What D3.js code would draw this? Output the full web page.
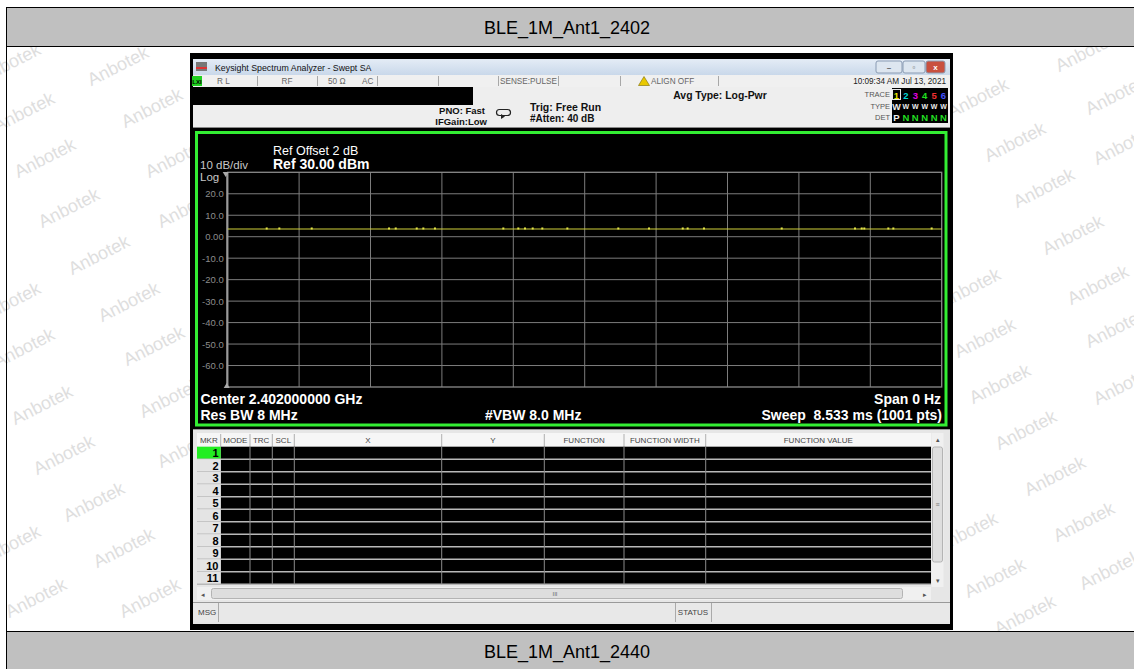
<!DOCTYPE html>
<html>
<head>
<meta charset="utf-8">
<script src="https://cdn.jsdelivr.net/npm/d3@7"></script>
<style>
  body { margin: 0; background: #fff; }
  svg { display: block; font-family: "Liberation Sans", Arial, sans-serif; }
  svg text { white-space: pre; }
</style>
</head>
<body>
<div id="chart"></div>
<script>
// ---- data ----
const chartTitles = ["BLE_1M_Ant1_2402", "BLE_1M_Ant1_2440"];
const yTickValues = [20, 10, 0, -10, -20, -30, -40, -50, -60];
const yTickLabels = ["20.0", "10.0", "0.00", "-10.0", "-20.0", "-30.0", "-40.0", "-50.0", "-60.0"];
const refLevel = 30;       // dBm, top of grid
const bottomLevel = -70;   // dBm, bottom of grid
const sweepMs = 8.533;     // zero span, time axis
// flat trace (burst envelope) and the small blips riding on it
const traceMs = [0, 8.533];
const traceDbm = [3.6, 3.6];
const blipMs = [0.466, 0.617, 1.004, 1.928, 2.008, 2.259, 2.338, 2.477, 3.294, 3.473, 3.553, 3.645, 3.760,
                4.059, 4.668, 5.035, 5.438, 5.497, 5.692, 6.621, 7.497, 7.577, 7.608, 7.895, 7.955, 8.413];
const blipDbm = [4.3, 4.3, 4.3, 4.3, 4.3, 4.3, 4.3, 4.3, 4.3, 4.3, 4.3, 4.3, 4.3,
                 4.3, 4.3, 4.3, 4.3, 4.3, 4.3, 4.3, 4.3, 4.3, 4.3, 4.3, 4.3, 4.3];
const markerHeaders = ["MKR", "MODE", "TRC", "SCL", "X", "Y", "FUNCTION", "FUNCTION WIDTH", "FUNCTION VALUE"];
const markerRows = ["1", "2", "3", "4", "5", "6", "7", "8", "9", "10", "11"];
const statusFields = ["R L", "RF", "50 Ω", "AC", "SENSE:PULSE", "ALIGN OFF", "10:09:34 AM Jul 13, 2021"];
const traceNums = ["1", "2", "3", "4", "5", "6"];
const traceColors = ["#e8e800", "#00d8d8", "#e000e0", "#20e020", "#f03030", "#4050ff"];
const detLetters = ["P", "N", "N", "N", "N", "N"];

// ---- layout ----
const W = 1134, H = 669;
const svg = d3.select("#chart").append("svg").attr("width", W).attr("height", H);

// watermark positions (decoration)
const wmLeft = [[118, 66], [10, 63], [152, 108], [24, 112], [176, 158], [45, 158], [69, 208], [188, 208],
                [99, 255], [129, 302], [10, 302], [154, 346], [24, 348], [42, 405], [170, 398], [64, 455],
                [188, 448], [94, 502], [124, 548], [10, 545], [150, 598], [36, 598]];
const wmRight = [[1086, 52], [978, 98], [1116, 95], [1015, 142], [1124, 145], [1044, 188], [1073, 235],
                 [1098, 285], [970, 288], [1116, 328], [985, 338], [1000, 384], [1124, 385], [1026, 430],
                 [1055, 476], [1084, 522], [967, 532], [1110, 570], [995, 578], [1025, 615]];
svg.append("g").selectAll("text").data(wmLeft.concat(wmRight)).join("text")
  .attr("transform", d => `translate(${d[0]},${d[1]}) rotate(-27)`)
  .attr("text-anchor", "middle").attr("dominant-baseline", "central")
  .attr("font-size", 18).attr("fill", "#dedede").text("Anbotek");

// page frame and the two caption bars
svg.append("line").attr("x1", 6.5).attr("x2", 6.5).attr("y1", 7).attr("y2", H).attr("stroke", "#000");
[[7.5, chartTitles[0]], [631.5, chartTitles[1]]].forEach(([y, label]) => {
  svg.append("rect").attr("x", 6.5).attr("y", y).attr("width", W).attr("height", 39)
    .attr("fill", "#c0c0c0").attr("stroke", "#000");
  svg.append("text").attr("x", 567).attr("y", y + 20).attr("text-anchor", "middle")
    .attr("dominant-baseline", "central").attr("font-size", 18).attr("fill", "#000").text(label);
});

// ---- instrument screenshot ----
const sa = svg.append("g");
sa.append("rect").attr("x", 190).attr("y", 53).attr("width", 763).attr("height", 577).attr("fill", "#000");

// window title bar
const grad = svg.append("defs").append("linearGradient").attr("id", "tb").attr("x1", 0).attr("x2", 0).attr("y1", 0).attr("y2", 1);
grad.append("stop").attr("offset", 0).attr("stop-color", "#e4ecf6");
grad.append("stop").attr("offset", 1).attr("stop-color", "#c9d8ea");
sa.append("rect").attr("x", 193).attr("y", 59).attr("width", 757).attr("height", 16).attr("fill", "url(#tb)");
sa.append("rect").attr("x", 196).attr("y", 62).attr("width", 11).attr("height", 9).attr("fill", "#777");
sa.append("rect").attr("x", 196).attr("y", 67).attr("width", 11).attr("height", 2).attr("fill", "#d33");
sa.append("text").attr("x", 215).attr("y", 67.5).attr("dominant-baseline", "central")
  .attr("font-size", 8.8).attr("fill", "#111").text("Keysight Spectrum Analyzer - Swept SA");
[[876, 26, "#dde6f0", "#555"], [903, 22, "#dde6f0", "#555"], [926, 19, "#c9503f", "#fff"]].forEach(([x, w, f, c], i) => {
  sa.append("rect").attr("x", x).attr("y", 61).attr("width", w).attr("height", 12).attr("rx", 2)
    .attr("fill", f).attr("stroke", "#8a9bb3");
  sa.append("text").attr("x", x + w / 2).attr("y", 67.5).attr("text-anchor", "middle").attr("dominant-baseline", "central")
    .attr("font-size", 8).attr("font-weight", "bold").attr("fill", c).text(["–", "▫", "x"][i]);
});

// status row
sa.append("rect").attr("x", 193).attr("y", 75).attr("width", 757).attr("height", 12).attr("fill", "#f0f0f0");
sa.append("rect").attr("x", 192).attr("y", 76).attr("width", 10).attr("height", 10).attr("fill", "#20d020");
sa.append("text").attr("x", 197).attr("y", 81.5).attr("text-anchor", "middle").attr("dominant-baseline", "central")
  .attr("font-size", 6).attr("font-weight", "bold").attr("fill", "#000").text("LXI");
[257, 317, 377, 438, 498, 558, 620, 718].forEach(x => {
  sa.append("line").attr("x1", x + 0.5).attr("x2", x + 0.5).attr("y1", 76).attr("y2", 86).attr("stroke", "#a8a8a8");
});
const statusX = [[217, "start"], [287, "middle"], [328, "start"], [362, "start"], [500, "start"], [651, "start"], [946, "end"]];
statusFields.forEach((s, i) => {
  sa.append("text").attr("x", statusX[i][0]).attr("y", 81.5).attr("text-anchor", statusX[i][1])
    .attr("dominant-baseline", "central").attr("font-size", 8.2).attr("fill", i === 6 ? "#222" : "#666").text(s);
});
sa.append("path").attr("d", "M644,76.5 L649.5,85.5 L638.5,85.5 Z").attr("fill", "#e8c800").attr("stroke", "#7a6a00").attr("stroke-width", 0.6);

// settings panel
sa.append("rect").attr("x", 193).attr("y", 87).attr("width", 757).attr("height", 40).attr("fill", "#eeeeee");
sa.append("rect").attr("x", 193).attr("y", 87).attr("width", 280).attr("height", 18).attr("fill", "#000");
sa.append("line").attr("x1", 193).attr("x2", 950).attr("y1", 127.5).attr("y2", 127.5).attr("stroke", "#888");
sa.append("text").attr("x", 485).attr("y", 110.5).attr("text-anchor", "end").attr("dominant-baseline", "central")
  .attr("font-size", 9.5).attr("font-weight", "bold").attr("fill", "#111").text("PNO: Fast");
sa.append("text").attr("x", 487).attr("y", 121.5).attr("text-anchor", "end").attr("dominant-baseline", "central")
  .attr("font-size", 9.5).attr("font-weight", "bold").attr("fill", "#111").text("IFGain:Low");
sa.append("rect").attr("x", 496.5).attr("y", 109.5).attr("width", 14).attr("height", 6).attr("rx", 3)
  .attr("fill", "none").attr("stroke", "#222").attr("stroke-width", 1.2);
sa.append("path").attr("d", "M501,114 L505,116.5 L501,119 Z").attr("fill", "#222");
sa.append("text").attr("x", 530).attr("y", 107).attr("dominant-baseline", "central")
  .attr("font-size", 10.5).attr("font-weight", "bold").attr("fill", "#111").text("Trig: Free Run");
sa.append("text").attr("x", 530).attr("y", 118.5).attr("dominant-baseline", "central")
  .attr("font-size", 10).attr("font-weight", "bold").attr("fill", "#111").text("#Atten: 40 dB");
sa.append("text").attr("x", 720).attr("y", 95).attr("text-anchor", "middle").attr("dominant-baseline", "central")
  .attr("font-size", 10.4).attr("font-weight", "bold").attr("fill", "#111").text("Avg Type: Log-Pwr");

// trace legend box
[["TRACE", 94.5], ["TYPE", 106.5], ["DET", 117.5]].forEach(([t, y]) => {
  sa.append("text").attr("x", 890).attr("y", y).attr("text-anchor", "end").attr("dominant-baseline", "central")
    .attr("font-size", 7.5).attr("fill", "#555").text(t);
});
sa.append("rect").attr("x", 892).attr("y", 88).attr("width", 56).attr("height", 35).attr("fill", "#000");
sa.append("rect").attr("x", 892.5).attr("y", 89.5).attr("width", 8).attr("height", 10).attr("fill", "none").attr("stroke", "#e8e8e8");
traceNums.forEach((n, i) => {
  const x = 896.5 + i * 9.4;
  sa.append("text").attr("x", x).attr("y", 95).attr("text-anchor", "middle").attr("dominant-baseline", "central")
    .attr("font-size", 9.5).attr("font-weight", "bold").attr("fill", traceColors[i]).text(n);
  sa.append("text").attr("x", x).attr("y", 106.5).attr("text-anchor", "middle").attr("dominant-baseline", "central")
    .attr("font-size", i === 0 ? 9 : 7).attr("font-weight", "bold").attr("fill", "#eee").text("W");
  sa.append("text").attr("x", x).attr("y", 117.5).attr("text-anchor", "middle").attr("dominant-baseline", "central")
    .attr("font-size", 9.5).attr("font-weight", "bold").attr("fill", i === 0 ? "#f0f0f0" : "#22dd22").text(detLetters[i]);
});

// ---- graph window ----
sa.append("rect").attr("x", 196.5).attr("y", 132.5).attr("width", 749.5).attr("height", 292.5)
  .attr("fill", "#000").attr("stroke", "#33ee33").attr("stroke-width", 3);

const x = d3.scaleLinear().domain([0, sweepMs]).range([227.7, 941.7]);
const y = d3.scaleLinear().domain([bottomLevel, refLevel]).range([387, 172.3]);

const grid = sa.append("g");
grid.selectAll("line.v").data(d3.range(1, 10)).join("line").attr("class", "v")
  .attr("x1", i => x(i * sweepMs / 10)).attr("x2", i => x(i * sweepMs / 10))
  .attr("y1", y(refLevel)).attr("y2", y(bottomLevel)).attr("stroke", "#7c7c7c");
grid.selectAll("line.h").data(yTickValues).join("line").attr("class", "h")
  .attr("x1", x(0)).attr("x2", x(sweepMs)).attr("y1", d => y(d)).attr("y2", d => y(d)).attr("stroke", "#7c7c7c");
grid.append("rect").attr("x", x(0)).attr("y", y(refLevel)).attr("width", x(sweepMs) - x(0))
  .attr("height", y(bottomLevel) - y(refLevel)).attr("fill", "none").attr("stroke", "#8a8a8a").attr("stroke-width", 1.3);
grid.append("line").attr("x1", x(0) - 0.5).attr("x2", x(0) - 0.5).attr("y1", y(refLevel)).attr("y2", y(bottomLevel))
  .attr("stroke", "#9a9a9a").attr("stroke-width", 2);

// y axis labels via d3 axis
const yAxis = d3.axisLeft(y).tickValues(yTickValues).tickFormat((d, i) => yTickLabels[i]).tickSize(0).tickPadding(4);
const yg = sa.append("g").attr("transform", `translate(${x(0)},0)`).call(yAxis);
yg.select(".domain").remove();
yg.selectAll("text").attr("fill", "#8c8c8c").attr("font-size", 9.5).attr("font-family", "Liberation Sans, Arial, sans-serif");

// trace
const line = d3.line().x((d, i) => x(traceMs[i])).y((d, i) => y(traceDbm[i]));
sa.append("path").datum(traceMs).attr("d", line).attr("fill", "none").attr("stroke", "#d2d23a").attr("stroke-width", 1.2);
sa.append("g").selectAll("rect").data(blipMs).join("rect")
  .attr("x", d => x(d) - 1).attr("y", (d, i) => y(blipDbm[i]))
  .attr("width", 2).attr("height", (d, i) => y(traceDbm[0]) - y(blipDbm[i]) + 0.5).attr("fill", "#e6e64a");

// graph annotations
const txt = (t, xx, yy, size, opts = {}) => sa.append("text").attr("x", xx).attr("y", yy)
  .attr("dominant-baseline", "central").attr("text-anchor", opts.anchor || "start")
  .attr("font-size", size).attr("font-weight", opts.bold ? "bold" : "normal")
  .attr("fill", opts.fill || "#fff").text(t);
txt("Ref Offset 2 dB", 273, 150.5, 12.5);
txt("Ref 30.00 dBm", 273, 164, 14, { bold: true });
txt("10 dB/div", 200, 165, 11.5, { fill: "#c8c8c8" });
txt("Log", 200, 176.5, 11.5, { fill: "#c8c8c8" });
sa.append("path").attr("d", `M${x(0) - 5},172 L${x(0) + 1},172 L${x(0) - 2},177 Z`).attr("fill", "#aaa");
sa.append("path").attr("d", `M${x(0) - 4},388 L${x(0) + 2},388 L${x(0) - 1},383 Z`).attr("fill", "#aaa");
txt("Center 2.402000000 GHz", 200.5, 398.5, 14, { bold: true });
txt("Res BW 8 MHz", 200.5, 414.5, 14, { bold: true });
txt("#VBW 8.0 MHz", 485, 414.5, 14, { bold: true });
txt("Span 0 Hz", 941, 399, 14, { bold: true, anchor: "end" });
txt("Sweep  8.533 ms (1001 pts)", 942, 414.5, 14, { bold: true, anchor: "end" });

// ---- marker table ----
const colEdges = [197, 220.7, 250, 272.3, 294.3, 441.7, 544.3, 624, 705.7, 931];
const rowTop = 446.7, rowH = 12.5;
sa.append("rect").attr("x", 193).attr("y", 429).attr("width", 757).attr("height", 195).attr("fill", "#e6e6e6");
sa.append("line").attr("x1", 193).attr("x2", 950).attr("y1", 429.5).attr("y2", 429.5).attr("stroke", "#999");
sa.append("rect").attr("x", 197).attr("y", 433).attr("width", 734).attr("height", rowTop - 433).attr("fill", "#f6f6f6");
markerHeaders.forEach((h, i) => {
  sa.append("text").attr("x", (colEdges[i] + colEdges[i + 1]) / 2).attr("y", 440)
    .attr("text-anchor", "middle").attr("dominant-baseline", "central")
    .attr("font-size", 8).attr("fill", "#444").text(h);
  if (i > 0) sa.append("line").attr("x1", colEdges[i]).attr("x2", colEdges[i]).attr("y1", 434).attr("y2", rowTop)
    .attr("stroke", "#b0b0b0");
});
sa.append("rect").attr("x", colEdges[1]).attr("y", rowTop).attr("width", colEdges[9] - colEdges[1])
  .attr("height", rowH * markerRows.length).attr("fill", "#000");
markerRows.forEach((r, i) => {
  const yy = rowTop + i * rowH;
  sa.append("rect").attr("x", 197).attr("y", yy).attr("width", colEdges[1] - 197).attr("height", rowH)
    .attr("fill", i === 0 ? "#22ee22" : "#e4e4e4");
  sa.append("text").attr("x", 218.5).attr("y", yy + rowH / 2 + 0.5).attr("text-anchor", "end")
    .attr("dominant-baseline", "central").attr("font-size", 11).attr("font-weight", "bold").attr("fill", "#000").text(r);
  sa.append("line").attr("x1", 197).attr("x2", 931).attr("y1", yy + rowH).attr("y2", yy + rowH)
    .attr("stroke", "#b8b8b8").attr("stroke-width", 1.4);
});
colEdges.slice(2, 9).forEach(c => {
  sa.append("line").attr("x1", c).attr("x2", c).attr("y1", rowTop).attr("y2", rowTop + rowH * markerRows.length)
    .attr("stroke", "#8a8a8a");
});

// scrollbars
sa.append("rect").attr("x", 197).attr("y", 587).attr("width", 734).attr("height", 13).attr("fill", "#f0f0f0");
sa.append("rect").attr("x", 211.5).attr("y", 588.5).attr("width", 691).attr("height", 10).attr("rx", 2)
  .attr("fill", "#dedede").attr("stroke", "#b4b4b4");
txt("III", 555, 594, 6, { fill: "#666", anchor: "middle" });
txt("◂", 203, 594, 7, { fill: "#555", anchor: "middle" });
txt("▸", 925, 594, 7, { fill: "#555", anchor: "middle" });
sa.append("rect").attr("x", 931.5).attr("y", 433).attr("width", 12).attr("height", 154).attr("fill", "#f0f0f0");
sa.append("rect").attr("x", 932.5).attr("y", 447).attr("width", 10).attr("height", 115).attr("rx", 2)
  .attr("fill", "#dedede").attr("stroke", "#b4b4b4");
txt("▴", 937.5, 439, 7, { fill: "#555", anchor: "middle" });
txt("▾", 937.5, 580, 7, { fill: "#555", anchor: "middle" });
txt("≡", 937.5, 504, 7, { fill: "#777", anchor: "middle" });

// message bar
sa.append("line").attr("x1", 193).attr("x2", 950).attr("y1", 602.5).attr("y2", 602.5).attr("stroke", "#999");
sa.append("rect").attr("x", 193).attr("y", 603).attr("width", 757).attr("height", 19).attr("fill", "#e8e8e8");
[218, 675, 711].forEach(c => {
  sa.append("line").attr("x1", c + 0.5).attr("x2", c + 0.5).attr("y1", 603).attr("y2", 622).attr("stroke", "#aaa");
});
txt("MSG", 198, 612.5, 8, { fill: "#444" });
txt("STATUS", 693, 612.5, 8, { fill: "#444", anchor: "middle" });
</script>
</body>
</html>
